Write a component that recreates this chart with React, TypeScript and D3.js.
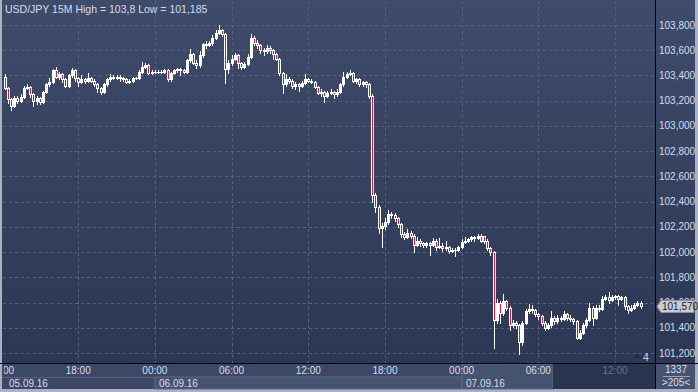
import React from "react";
import * as d3 from "d3";

const TITLE = "USD/JPY 15M  High = 103,8 Low = 101,185";
const START_UTC = Date.UTC(2016, 8, 5, 12, 0);
const BAR_MINUTES = 15;

const opens = [
103.39,103.30,103.21,103.16,103.22,103.20,103.23,103.30,103.31,103.25,
103.20,103.22,103.19,103.27,103.33,103.35,103.44,103.39,103.41,103.37,
103.32,103.40,103.44,103.38,103.35,103.37,103.36,103.38,103.36,103.33,
103.30,103.27,103.33,103.37,103.39,103.38,103.39,103.38,103.37,103.35,
103.36,103.38,103.38,103.43,103.47,103.48,103.42,103.43,103.43,103.43,
103.43,103.44,103.37,103.42,103.44,103.45,103.44,103.43,103.52,103.57,
103.50,103.48,103.56,103.65,103.64,103.66,103.70,103.74,103.76,103.73,
103.45,103.50,103.53,103.56,103.50,103.47,103.49,103.55,103.70,103.66,
103.64,103.60,103.59,103.62,103.60,103.57,103.53,103.42,103.33,103.37,
103.36,103.32,103.33,103.32,103.34,103.37,103.36,103.35,103.31,103.26,
103.27,103.24,103.26,103.27,103.25,103.27,103.33,103.39,103.41,103.42,
103.36,103.37,103.33,103.35,103.33,103.24,102.45,102.36,102.19,102.21,
102.24,102.30,102.29,102.27,102.22,102.14,102.12,102.15,102.13,102.06,
102.09,102.07,102.06,102.07,102.06,102.09,102.04,102.05,102.03,102.04,
102.01,102.02,102.02,102.04,102.08,102.09,102.10,102.12,102.11,102.13,
102.13,102.09,102.03,102.00,101.46,101.60,101.52,101.61,101.56,101.42,
101.44,101.42,101.29,101.44,101.53,101.55,101.54,101.51,101.49,101.44,
101.40,101.42,101.48,101.45,101.48,101.47,101.51,101.48,101.47,101.45,
101.32,101.36,101.42,101.46,101.56,101.48,101.56,101.55,101.63,101.64,
101.62,101.64,101.65,101.63,101.64,101.57,101.54,101.56,101.58,101.60
];

const highs = [
103.41,103.31,103.22,103.24,103.24,103.25,103.32,103.33,103.32,103.26,
103.24,103.23,103.28,103.34,103.38,103.45,103.47,103.43,103.42,103.38,
103.41,103.46,103.45,103.39,103.40,103.38,103.42,103.39,103.37,103.34,
103.31,103.34,103.38,103.41,103.40,103.40,103.40,103.39,103.38,103.37,
103.39,103.39,103.44,103.51,103.50,103.49,103.44,103.44,103.44,103.44,
103.45,103.45,103.43,103.45,103.46,103.46,103.45,103.53,103.61,103.58,
103.52,103.59,103.66,103.67,103.67,103.72,103.76,103.80,103.77,103.74,
103.52,103.56,103.58,103.57,103.51,103.51,103.57,103.73,103.71,103.68,
103.65,103.62,103.64,103.63,103.61,103.58,103.54,103.43,103.41,103.39,
103.37,103.35,103.34,103.36,103.41,103.38,103.37,103.36,103.32,103.29,
103.28,103.28,103.29,103.28,103.29,103.34,103.43,103.43,103.44,103.43,
103.38,103.38,103.36,103.36,103.34,103.25,102.47,102.37,102.23,102.27,
102.33,102.32,102.31,102.28,102.23,102.16,102.18,102.17,102.14,102.12,
102.10,102.08,102.08,102.08,102.11,102.10,102.11,102.07,102.09,102.05,
102.03,102.03,102.05,102.10,102.12,102.11,102.13,102.13,102.14,102.14,
102.11,102.10,102.04,102.01,101.63,101.61,101.67,101.62,101.57,101.46,
101.45,101.43,101.45,101.55,101.59,101.58,101.55,101.52,101.50,101.45,
101.44,101.53,101.49,101.50,101.49,101.53,101.52,101.50,101.48,101.46,
101.38,101.44,101.48,101.60,101.57,101.58,101.58,101.65,101.66,101.68,
101.66,101.66,101.66,101.65,101.65,101.58,101.58,101.60,101.61,101.61
];

const lows = [
103.29,103.18,103.13,103.15,103.18,103.19,103.22,103.29,103.23,103.16,
103.17,103.17,103.18,103.26,103.32,103.34,103.38,103.37,103.35,103.31,
103.31,103.39,103.36,103.32,103.34,103.34,103.35,103.35,103.32,103.27,
103.25,103.26,103.32,103.36,103.37,103.37,103.36,103.36,103.34,103.34,
103.35,103.37,103.37,103.42,103.46,103.41,103.41,103.42,103.42,103.42,
103.42,103.36,103.36,103.41,103.43,103.40,103.42,103.42,103.51,103.49,
103.46,103.47,103.55,103.62,103.63,103.64,103.69,103.73,103.71,103.34,
103.42,103.48,103.52,103.46,103.45,103.46,103.48,103.54,103.64,103.62,
103.58,103.56,103.58,103.58,103.53,103.52,103.40,103.26,103.32,103.34,
103.30,103.29,103.28,103.31,103.33,103.35,103.34,103.30,103.25,103.24,
103.19,103.23,103.25,103.22,103.24,103.26,103.32,103.38,103.40,103.35,
103.34,103.32,103.32,103.31,103.22,102.40,102.32,102.15,102.04,102.18,
102.22,102.27,102.25,102.20,102.12,102.10,102.11,102.11,102.00,102.05,
102.05,102.04,102.04,101.98,102.05,102.02,102.03,102.01,102.02,101.99,
102.00,101.97,102.01,102.03,102.07,102.08,102.09,102.09,102.10,102.08,
102.07,102.02,101.98,101.24,101.44,101.44,101.50,101.54,101.38,101.41,
101.40,101.19,101.26,101.43,101.52,101.52,101.49,101.47,101.42,101.38,
101.39,101.41,101.43,101.44,101.45,101.46,101.46,101.45,101.43,101.31,
101.31,101.35,101.41,101.45,101.42,101.47,101.53,101.54,101.62,101.60,
101.61,101.63,101.58,101.62,101.55,101.52,101.53,101.55,101.57,101.56
];

const closes = [
103.30,103.21,103.16,103.22,103.20,103.23,103.30,103.31,103.25,103.20,
103.22,103.19,103.27,103.33,103.35,103.44,103.39,103.41,103.37,103.32,
103.40,103.44,103.38,103.35,103.37,103.36,103.38,103.36,103.33,103.30,
103.27,103.33,103.37,103.39,103.38,103.39,103.38,103.37,103.35,103.36,
103.38,103.38,103.43,103.47,103.48,103.42,103.43,103.43,103.43,103.43,
103.44,103.37,103.42,103.44,103.45,103.44,103.43,103.52,103.57,103.50,
103.48,103.56,103.65,103.64,103.66,103.70,103.74,103.76,103.73,103.45,
103.50,103.53,103.56,103.50,103.47,103.49,103.55,103.70,103.66,103.64,
103.60,103.59,103.62,103.60,103.57,103.53,103.42,103.33,103.37,103.36,
103.32,103.33,103.32,103.34,103.37,103.36,103.35,103.31,103.26,103.27,
103.24,103.26,103.27,103.25,103.27,103.33,103.39,103.41,103.42,103.36,
103.37,103.33,103.35,103.33,103.24,102.45,102.36,102.19,102.21,102.24,
102.30,102.29,102.27,102.22,102.14,102.12,102.15,102.13,102.06,102.09,
102.07,102.06,102.07,102.06,102.09,102.04,102.05,102.03,102.04,102.01,
102.02,102.02,102.04,102.08,102.09,102.10,102.12,102.11,102.13,102.09,
102.09,102.03,102.00,101.46,101.60,101.52,101.61,101.56,101.42,101.44,
101.42,101.29,101.44,101.53,101.55,101.54,101.51,101.49,101.44,101.40,
101.42,101.48,101.45,101.48,101.47,101.51,101.48,101.47,101.45,101.32,
101.36,101.42,101.46,101.56,101.48,101.56,101.55,101.63,101.64,101.62,
101.64,101.65,101.63,101.64,101.57,101.54,101.56,101.58,101.60,101.57
];

const LAST_PRICE = 101.57;
const DATE_LABELS = ["05.09.16", "06.09.16", "07.09.16"];
const BAR_COUNT_LABEL = "1337";
const VISIBLE_LABEL = ">205<";
const MARKER_LABEL = "4";

const W = 698, H = 392;
const PL = 3, PR = 655, PT = 1, PB = 363;
const FONT = "'Liberation Sans', Arial, sans-serif";
const TXT = "#d4deef";
const GRID = "#56627f";
const RED = "#e3123c";

const fmtPrice = (v: number) => d3.format(".3f")(v).replace(".", ",");

export default function App() {
  const t0 = new Date(START_UTC);
  const t1 = new Date(START_UTC + 48 * 3600e3);
  const x = d3.scaleUtc().domain([t0, t1]).range([1.5, 615]);
  const y = d3.scaleLinear().domain([101.2, 103.8]).range([353, 25]);

  const candles = closes.map((c, i) => ({
    t: new Date(START_UTC + (i + 1) * BAR_MINUTES * 60e3),
    o: opens[i], h: highs[i], l: lows[i], c,
  }));

  const timeTicks = d3.utcHour.every(6)!.range(t0, new Date(START_UTC + 51 * 3600e3));
  const priceTicks = d3.range(0, 14).map((i) => +(101.2 + i * 0.2).toFixed(1));
  const fmtTime = d3.utcFormat("%H:%M");

  const dayStarts = [t0, new Date(Date.UTC(2016, 8, 6)), new Date(Date.UTC(2016, 8, 7))];
  const xd1 = Math.round(x(dayStarts[1]));
  const xd2 = Math.round(x(dayStarts[2]));
  const darkStart = 553;
  const tagY = Math.round(y(LAST_PRICE)) + 0.5;

  return (
    <svg width={W} height={H} style={{ position: "absolute", left: 0, top: 0, display: "block" }}
      fontFamily={FONT}>
      <defs>
        <linearGradient id="bg" x1="0" y1="0" x2="0" y2="1">
          <stop offset="0" stopColor="#3f4b6a" />
          <stop offset="1" stopColor="#2b3653" />
        </linearGradient>
        <clipPath id="plot"><rect x={PL} y={PT} width={PR - PL} height={PB - PT} /></clipPath>
        <clipPath id="timeclip"><rect x={4} y={PB} width={darkStart - 4} height={14} /></clipPath>
      </defs>
      <rect x={0} y={0} width={W} height={H} fill="#a9b1c2" />
      <rect x={2} y={0} width={W - 5} height={H - 3} fill="url(#bg)" />

      {/* grid */}
      <g clipPath="url(#plot)" stroke={GRID} strokeDasharray="3,3" strokeWidth={1}>
        {priceTicks.map((p) => (
          <line key={"h" + p} x1={PL} x2={PR} y1={Math.round(y(p)) + 0.5} y2={Math.round(y(p)) + 0.5} />
        ))}
        {timeTicks.map((t) => (
          <line key={"v" + +t} x1={Math.round(x(t)) + 0.5} x2={Math.round(x(t)) + 0.5} y1={PT} y2={PB} />
        ))}
      </g>

      {/* candles */}
      <g clipPath="url(#plot)" shapeRendering="crispEdges">
        {candles.map((d, i) => {
          const cx = Math.round(x(d.t));
          const yo = Math.round(y(d.o)), yc = Math.round(y(d.c));
          const top = Math.min(yo, yc), bot = Math.max(yo, yc);
          const bear = d.c < d.o;
          const hgt = Math.max(1, bot - top + 1);
          return (
            <g key={i}>
              <rect x={cx} y={Math.round(y(d.h))} width={1} height={Math.max(1, Math.round(y(d.l)) - Math.round(y(d.h)) + 1)} fill="#ffffff" />
              <rect x={cx - 1} y={top} width={3} height={hgt} fill="#ffffff" />
              {bear && hgt > 2 && <rect x={cx} y={top + 1} width={1} height={hgt - 2} fill={RED} />}
            </g>
          );
        })}
      </g>

      {/* title */}
      <text x={5} y={13} fontSize={10.5} fill={TXT}>{TITLE}</text>

      {/* marker */}
      <path d="M633,358 L637,354 L641,358 Z" fill="#1f2840" />
      <text x={643} y={361} fontSize={10.5} fill={TXT}>{MARKER_LABEL}</text>

      {/* right axis */}
      <rect x={PR} y={0} width={1} height={H - 3} fill="#000" />
      {priceTicks.map((p) => (
        <text key={"yl" + p} x={659} y={y(p) + 3.5} fontSize={10} fill={TXT}>{fmtPrice(p)}</text>
      ))}
      {/* price tag */}
      <g>
        <path d={`M657,${tagY} L661,${tagY - 6} L694,${tagY - 6} L694,${tagY + 6} L661,${tagY + 6} Z`}
          fill="#c9cbd0" stroke="#8d939f" strokeWidth={1} />
        <text x={662} y={tagY + 3.5} fontSize={10} fill="#1b2235">{fmtPrice(LAST_PRICE)}</text>
      </g>

      {/* bottom axis */}
      <rect x={2} y={PB} width={W - 5} height={H - 3 - PB} fill="#3c4866" />
      <rect x={xd1} y={377} width={xd2 - xd1} height={12} fill="#46536f" stroke="#5d6986" strokeWidth={1} />
      <rect x={xd2} y={PB + 1} width={darkStart - xd2} height={H - 4 - PB} fill="#46536f" stroke="#5d6986" strokeWidth={1} />
      <rect x={2} y={377} width={xd1 - 2} height={0.8} fill="#5d6986" />
      <rect x={darkStart} y={PB + 1} width={PR - darkStart} height={H - 4 - PB} fill="#29344f" />
      <rect x={0} y={PB} width={W} height={1} fill="#000" />
      <rect x={PR} y={PB} width={1} height={H - 3 - PB} fill="#000" />
      <g clipPath="url(#timeclip)">
        {timeTicks.map((t) => (
          <text key={"tl" + +t} x={x(t)} y={374} fontSize={10} fill={TXT} textAnchor="middle">{fmtTime(t)}</text>
        ))}
      </g>
      {timeTicks.filter((t) => x(t) > darkStart && x(t) < PR).map((t) => (
        <text key={"tg" + +t} x={x(t)} y={374} fontSize={10} fill="#69748f" textAnchor="middle">{fmtTime(t)}</text>
      ))}
      {DATE_LABELS.map((lab, i) => (
        <text key={lab} x={(i === 0 ? 5 : Math.round(x(dayStarts[i]))) + 4} y={386.5} fontSize={10} fill={TXT}>{lab}</text>
      ))}
      {/* bottom right cell */}
      <rect x={PR + 1} y={PB + 1} width={W - 3 - PR - 1} height={H - 4 - PB} fill="#46536f" />
      <text x={676} y={373} fontSize={10} fill={TXT} textAnchor="middle">{BAR_COUNT_LABEL}</text>
      <rect x={663} y={376} width={27} height={1} fill="#9aa5bb" />
      <text x={676} y={386} fontSize={10} fill={TXT} textAnchor="middle">{VISIBLE_LABEL}</text>
    </svg>
  );
}
